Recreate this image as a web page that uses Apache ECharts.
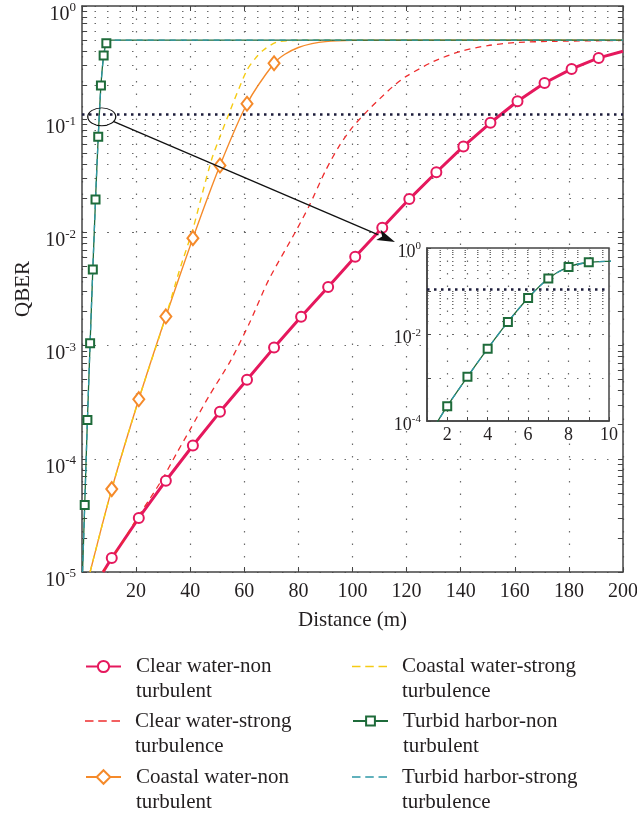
<!DOCTYPE html>
<html><head><meta charset="utf-8">
<script src="https://cdn.jsdelivr.net/npm/echarts@6/dist/echarts.min.js"></script>
<style>html,body{margin:0;padding:0;background:#fff}#c{width:637px;height:820px}</style>
</head><body><div id="c"></div>
<script>
// ---------------- data ----------------
const clearNonX = [7.8, 11, 21, 31, 41, 51, 61, 71, 81, 91, 101, 111, 121, 131, 141, 151, 161, 171, 181, 191, 200];
const clearNonY = [1.0e-5, 1.33e-5, 3.0e-5, 6.4e-5, 1.31e-4, 2.6e-4, 5.0e-4, 9.6e-4, 1.8e-3, 3.3e-3, 6.1e-3, 1.1e-2, 1.97e-2, 3.4e-2, 5.75e-2, 9.3e-2, 0.144, 0.209, 0.278, 0.348, 0.398];
const clearNonMarks = [11, 21, 31, 41, 51, 61, 71, 81, 91, 101, 111, 121, 131, 141, 151, 161, 171, 181, 191];

const clearStrongX = [7.8, 12, 16, 20, 25, 30, 35, 40, 47, 55, 62, 69, 79, 84, 90, 95, 100, 105, 110, 115, 120, 130, 140, 150, 160, 175, 200];
const clearStrongY = [1.0e-5, 1.43e-5, 2.0e-5, 2.9e-5, 4.4e-5, 6.8e-5, 1.12e-4, 1.82e-4, 3.6e-4, 7.4e-4, 1.6e-3, 3.8e-3, 1.02e-2, 1.72e-2, 3.5e-2, 5.75e-2, 8.5e-2, 0.115, 0.151, 0.195, 0.24, 0.324, 0.398, 0.447, 0.475, 0.488, 0.496];

const coastalNonX = [3, 11, 21, 31, 41, 51, 61, 71, 75, 80, 85, 90, 100, 115, 200];
const coastalNonY = [1.0e-5, 5.4e-5, 3.36e-4, 1.81e-3, 8.9e-3, 3.9e-2, 0.137, 0.312, 0.375, 0.43, 0.465, 0.485, 0.497, 0.5, 0.5];
const coastalNonMarks = [11, 21, 31, 41, 51, 61, 71];

const coastalStrongX = [3, 11, 21, 31, 36, 41, 44, 48, 51, 55, 58, 61, 64, 67, 72, 80, 90, 200];
const coastalStrongY = [1.0e-5, 5.4e-5, 3.36e-4, 1.81e-3, 4.6e-3, 1.07e-2, 2.0e-2, 4.47e-2, 7.0e-2, 0.123, 0.186, 0.272, 0.343, 0.407, 0.479, 0.498, 0.5, 0.5];

const turbidNonX = [0.2, 1, 2, 3, 4, 5, 6, 7, 8, 9, 10, 11, 12, 15, 200];
const turbidNonY = [1.0e-5, 3.9e-5, 2.2e-4, 1.05e-3, 4.7e-3, 1.95e-2, 7.0e-2, 0.198, 0.365, 0.468, 0.493, 0.499, 0.5, 0.5, 0.5];
const turbidNonMarks = [1, 2, 3, 4, 5, 6, 7, 8, 9];
const turbidInsetMarks = [2, 3, 4, 5, 6, 7, 8, 9];

const turbidStrongX = [0.2, 1, 2, 3, 4, 5, 6, 7, 8, 9, 10, 11, 12, 15, 200];
const turbidStrongY = [1.0e-5, 3.9e-5, 2.2e-4, 1.05e-3, 4.7e-3, 1.95e-2, 7.0e-2, 0.198, 0.365, 0.468, 0.493, 0.499, 0.5, 0.5, 0.5];

const thresholdQBER = 0.11;

const seriesNames = [
  'Clear water-non turbulent', 'Clear water-strong turbulence', 'Coastal water-non turbulent',
  'Coastal water-strong turbulence', 'Turbid harbor-non turbulent', 'Turbid harbor-strong turbulence'
];
const xTickLabels = [20, 40, 60, 80, 100, 120, 140, 160, 180, 200];
const insetXTickLabels = [2, 4, 6, 8, 10];
const mainDecades = [-5, -4, -3, -2, -1];
const insetDecades = [-4, -3, -2, -1];
const insetLabelExps = [0, -2, -4];

// ---------------- styling ----------------
const FONT = 'Liberation Serif';
const TXT = '#231f20';
const AX = '#444';
const C_CLEAR = '#E5185D', C_CLEAR_S = '#EE2D2E', C_COAST = '#F58A2A', C_COAST_S = '#F5CB14', C_TURB = '#1E6B3A', C_TURB_S = '#2E98A6';
const gridDots = {color: '#6a6a6a', width: 1.2, type: [1.5, 11]};
const DASH_ICON = 'path://M0,0h0.01v0.01h-0.01z M34.99,13.99h0.01v0.01h-0.01z M0,6.2h8.5v1.6h-8.5z M13.25,6.2h8.5v1.6h-8.5z M26.5,6.2h8.5v1.6h-8.5z';

function pts(xs, ys, marks) {
  return xs.map((x, i) => (marks && marks.indexOf(x) >= 0) ? [x, ys[i]] : {value: [x, ys[i]], symbol: 'none'});
}
function minors(decs) {
  const out = [];
  decs.forEach(e => { for (let m = 2; m <= 9; m++) out.push(Number((m * Math.pow(10, e)).toPrecision(3))); });
  return out;
}
function logLabel(v) {
  const e = Math.round(Math.log10(v));
  return '{b|10}{s|' + e + '}';
}
const mainMinor = minors(mainDecades);
const insetMinor = minors(insetDecades);

const chart = echarts.init(document.getElementById('c'), null, {renderer: 'canvas'});

const lineBase = (name, xi, yi, z) => ({name, type: 'line', xAxisIndex: xi, yAxisIndex: yi, z, clip: true, animation: false, emphasis: {disabled: true}});

const series = [
  Object.assign(lineBase(seriesNames[0], 0, 0, 2), {data: pts(clearNonX, clearNonY, clearNonMarks), symbol: 'emptyCircle', symbolSize: 10,
    lineStyle: {color: C_CLEAR, width: 3}, itemStyle: {color: C_CLEAR, borderWidth: 3}}),
  Object.assign(lineBase(seriesNames[1], 0, 0, 2), {data: pts(clearStrongX, clearStrongY), symbol: 'none', smooth: 0.25,
    lineStyle: {color: C_CLEAR_S, width: 1.3, type: [6, 5]}, itemStyle: {color: C_CLEAR_S}}),
  Object.assign(lineBase(seriesNames[2], 0, 0, 2), {data: pts(coastalNonX, coastalNonY, coastalNonMarks), symbol: 'emptyDiamond', symbolSize: [11, 14], smooth: 0.25,
    lineStyle: {color: C_COAST, width: 1.4}, itemStyle: {color: C_COAST, borderWidth: 1.3}}),
  Object.assign(lineBase(seriesNames[3], 0, 0, 2), {data: pts(coastalStrongX, coastalStrongY), symbol: 'none', smooth: 0.25,
    lineStyle: {color: C_COAST_S, width: 1.4, type: [6, 5]}, itemStyle: {color: C_COAST_S}}),
  Object.assign(lineBase(seriesNames[4], 0, 0, 2), {data: pts(turbidNonX, turbidNonY, turbidNonMarks), symbol: 'emptyRect', symbolSize: 8, smooth: 0.25,
    lineStyle: {color: C_TURB, width: 1.3}, itemStyle: {color: C_TURB, borderWidth: 1.3}}),
  Object.assign(lineBase(seriesNames[5], 0, 0, 2), {data: pts(turbidStrongX, turbidStrongY), symbol: 'none', smooth: 0.25,
    lineStyle: {color: C_TURB_S, width: 1.3, type: [6, 5]}, itemStyle: {color: C_TURB_S}}),
  // inset
  Object.assign(lineBase(seriesNames[4], 1, 1, 4), {data: pts(turbidNonX, turbidNonY, turbidInsetMarks), symbol: 'emptyRect', symbolSize: 8, smooth: 0.25,
    lineStyle: {color: C_TURB, width: 1.3}, itemStyle: {color: C_TURB, borderWidth: 1.3}}),
  Object.assign(lineBase(seriesNames[5], 1, 1, 4), {data: pts(turbidStrongX, turbidStrongY), symbol: 'none', smooth: 0.25,
    lineStyle: {color: C_TURB_S, width: 1.3, type: [6, 5]}, itemStyle: {color: C_TURB_S}}),
  // helpers: minor grid, minor ticks, threshold (main)
  Object.assign(lineBase('_mg', 0, 0, 0), {data: [], symbol: 'none', markLine: {silent: true, z: 0, symbol: ['none', 'none'], label: {show: false}, animation: false,
    lineStyle: gridDots, data: mainMinor.map(v => ({yAxis: v}))}}),
  Object.assign(lineBase('_mt', 0, 0, 0), {data: [], symbol: 'none', markLine: {silent: true, z: 0, symbol: ['none', 'none'], label: {show: false}, animation: false,
    lineStyle: {color: AX, width: 1, type: 'solid'},
    data: mainMinor.flatMap(v => [[{coord: [0, v]}, {coord: [1.9, v]}], [{coord: [198.1, v]}, {coord: [200, v]}]])}}),
  Object.assign(lineBase('_th', 0, 0, 3), {data: [], symbol: 'none', markLine: {silent: true, z: 3, symbol: ['none', 'none'], label: {show: false}, animation: false,
    lineStyle: {color: '#1b1b3a', width: 2.5, type: [2.5, 4.5]}, data: [{yAxis: thresholdQBER}]}}),
  // helpers (inset)
  Object.assign(lineBase('_img', 1, 1, 3), {data: [], symbol: 'none', markLine: {silent: true, z: 2, symbol: ['none', 'none'], label: {show: false}, animation: false,
    lineStyle: gridDots, data: insetMinor.map(v => ({yAxis: v}))}}),
  Object.assign(lineBase('_ith', 1, 1, 3), {data: [], symbol: 'none', markLine: {silent: true, z: 3, symbol: ['none', 'none'], label: {show: false}, animation: false,
    lineStyle: {color: '#1b1b3a', width: 2.5, type: [2.5, 4.5]}, data: [{yAxis: thresholdQBER}]}})
];

const legendIconH = [14, 14, 17, 14, 11, 14];
const legendDashed = [false, true, false, true, false, true];
const legends = seriesNames.map((n, i) => ({
  show: true, data: [legendDashed[i] ? {name: n, icon: DASH_ICON} : {name: n}],
  orient: 'vertical', left: i < 3 ? 85 : 352, top: [629, 683.5, 739.5][i % 3],
  padding: 0, itemWidth: 35, itemHeight: legendIconH[i], itemGap: 0, selectedMode: false,
  formatter: s => '\u00a0\n' + s.replace(/ (\S+)$/, '\n$1'),
  textStyle: {fontFamily: FONT, fontSize: 21, lineHeight: 25, color: TXT, padding: [0, 0, 0, 10]}
}));

const tickStyle = {inside: true, length: 5, lineStyle: {color: AX, width: 1}};
const axisLineStyle = {show: true, onZero: false, lineStyle: {color: AX, width: 1.5}};

const option = {
  animation: false,
  backgroundColor: '#fff',
  textStyle: {fontFamily: FONT},
  legend: legends,
  grid: [
    {left: 82, top: 6, width: 541, height: 566, outerBoundsMode: 'none', containLabel: false},
    {left: 427, top: 248, width: 182, height: 173, show: true, backgroundColor: '#fff', borderColor: AX, borderWidth: 1.5, z: 1, outerBoundsMode: 'none', containLabel: false}
  ],
  xAxis: [
    {gridIndex: 0, type: 'value', min: 0, max: 200, interval: 20, position: 'bottom', z: 0,
      axisLine: axisLineStyle, axisTick: tickStyle,
      axisLabel: {formatter: v => xTickLabels.indexOf(v) >= 0 ? String(v) : '', fontFamily: FONT, fontSize: 20, color: TXT, margin: 10, showMaxLabel: true, showMinLabel: true},
      splitLine: {show: true, lineStyle: gridDots},
      name: 'Distance (m)', nameLocation: 'middle', nameGap: 38, nameTextStyle: {fontFamily: FONT, fontSize: 21, color: TXT}},
    {gridIndex: 1, type: 'value', min: 1, max: 10, interval: 1, position: 'bottom', z: 2,
      axisLine: axisLineStyle, axisTick: {inside: true, length: 4, lineStyle: {color: AX}},
      axisLabel: {formatter: v => insetXTickLabels.indexOf(v) >= 0 ? String(v) : '', fontFamily: FONT, fontSize: 18, color: TXT, margin: 5, showMaxLabel: true},
      splitLine: {show: true, lineStyle: gridDots}},
    {gridIndex: 0, type: 'value', min: 0, max: 200, interval: 20, position: 'top', z: 0,
      axisLine: axisLineStyle, axisTick: tickStyle, axisLabel: {show: false}, splitLine: {show: false}}
  ],
  yAxis: [
    {gridIndex: 0, type: 'log', logBase: 10, min: 1e-5, max: 1, position: 'left', z: 0,
      axisLine: axisLineStyle, axisTick: tickStyle,
      axisLabel: {formatter: logLabel, margin: 6, padding: [17, 0, 0, 0], showMinLabel: true, showMaxLabel: true,
        rich: {b: {fontFamily: FONT, fontSize: 20, color: TXT, lineHeight: 26}, s: {fontFamily: FONT, fontSize: 13, color: TXT, lineHeight: 12, verticalAlign: 'top'}}},
      splitLine: {show: true, lineStyle: gridDots},
      name: 'QBER', nameLocation: 'middle', nameGap: 48, nameRotate: 90, nameTextStyle: {fontFamily: FONT, fontSize: 21, color: TXT}},
    {gridIndex: 1, type: 'log', logBase: 10, min: 1e-4, max: 1, position: 'left', z: 2,
      axisLine: axisLineStyle, axisTick: {inside: true, length: 4, lineStyle: {color: AX}},
      axisLabel: {formatter: v => insetLabelExps.indexOf(Math.round(Math.log10(v))) >= 0 ? logLabel(v) : '', margin: 6, padding: [8, 0, 0, 0], showMinLabel: true, showMaxLabel: true,
        rich: {b: {fontFamily: FONT, fontSize: 18, color: TXT, lineHeight: 22}, s: {fontFamily: FONT, fontSize: 11, color: TXT, lineHeight: 10, verticalAlign: 'top'}}},
      splitLine: {show: true, lineStyle: gridDots}},
    {gridIndex: 0, type: 'log', logBase: 10, min: 1e-5, max: 1, position: 'right', z: 0,
      axisLine: axisLineStyle, axisTick: tickStyle, axisLabel: {show: false}, splitLine: {show: false}}
  ],
  series
};
chart.setOption(option);

// zoom annotation: ellipse around the turbid curve at the threshold and an arrow to the inset
const ellC = chart.convertToPixel({gridIndex: 0}, [7.3, 0.105]);
const insetTL = chart.convertToPixel({gridIndex: 1}, [1, 1]);
const a0 = [ellC[0] + 11.5, ellC[1] + 4.5];
const a1 = [insetTL[0] - 32, insetTL[1] - 6];
const dx = a1[0] - a0[0], dy = a1[1] - a0[1], L = Math.hypot(dx, dy), ux = dx / L, uy = dy / L;
const headL = 18, headW = 5.5;
const hb = [a1[0] - ux * headL, a1[1] - uy * headL];
chart.setOption({
  graphic: [
    {type: 'circle', z: 20, x: ellC[0], y: ellC[1], scaleY: 0.64, shape: {cx: 0, cy: 0, r: 14},
      style: {fill: 'none', stroke: '#111', lineWidth: 1.3, strokeNoScale: true}},
    {type: 'line', z: 20, shape: {x1: a0[0], y1: a0[1], x2: hb[0], y2: hb[1]}, style: {stroke: '#111', lineWidth: 1.3}},
    {type: 'polygon', z: 20, shape: {points: [a1, [hb[0] - uy * headW, hb[1] + ux * headW], [hb[0] + ux * 4, hb[1] + uy * 4], [hb[0] + uy * headW, hb[1] - ux * headW]]},
      style: {fill: '#111'}}
  ]
});
</script>
</body></html>
